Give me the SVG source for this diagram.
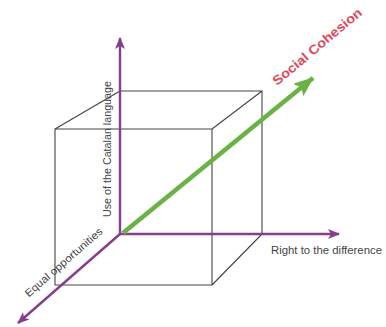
<svg xmlns="http://www.w3.org/2000/svg" width="386" height="327" viewBox="0 0 386 327">
<style>
.cube{fill:none;stroke:#444;stroke-width:1.1}
.axis{fill:none;stroke:#873c8e;stroke-width:2.4}
.lbl{font-family:"Liberation Sans",Arial,sans-serif;font-size:10.5px;fill:#444}
.sc{font-family:"Liberation Sans",Arial,sans-serif;font-size:13px;font-weight:bold;fill:#e0475a}
</style>
<defs>
<marker id="pa" viewBox="0 0 12 10" refX="11" refY="5" markerWidth="12" markerHeight="10" markerUnits="userSpaceOnUse" orient="auto"><path d="M0,0 L12,5 L0,10 L3,5 Z" fill="#873c8e"/></marker>
<marker id="ga" viewBox="0 0 20 16" refX="19" refY="8" markerWidth="20" markerHeight="16" markerUnits="userSpaceOnUse" orient="auto"><path d="M0,0 L20,8 L0,16 L4,8 Z" fill="#6ab245"/></marker>
</defs>
<g id="cube">
<path class="cube" d="M120,91 H262 V234 M55,129 H212 V285 H55 Z M120,91 L55,129 M262,91 L212,129 M262,234 L212,285"/>
</g>
<g id="connectors">
<line class="axis" x1="120" y1="234" x2="120" y2="38" marker-end="url(#pa)"/>
<line class="axis" x1="119" y1="234" x2="339" y2="234" marker-end="url(#pa)"/>
<line class="axis" x1="120" y1="234" x2="18" y2="323" marker-end="url(#pa)"/>
<line x1="123" y1="233" x2="313" y2="78" stroke="#6ab245" stroke-width="4.5" marker-end="url(#ga)"/>
</g>
<g id="labels">
<text class="sc" transform="translate(320,50) rotate(-40)" text-anchor="middle" textLength="112" lengthAdjust="spacingAndGlyphs">Social Cohesion</text>
<text class="lbl" transform="translate(111,149) rotate(-90)" text-anchor="middle" textLength="136" lengthAdjust="spacingAndGlyphs">Use of the Catalan language</text>
<text class="lbl" x="271" y="254" textLength="111" lengthAdjust="spacingAndGlyphs">Right to the difference</text>
<text class="lbl" transform="translate(66,265) rotate(-41)" text-anchor="middle" textLength="99" lengthAdjust="spacingAndGlyphs">Equal opportunities</text>
</g>
</svg>
